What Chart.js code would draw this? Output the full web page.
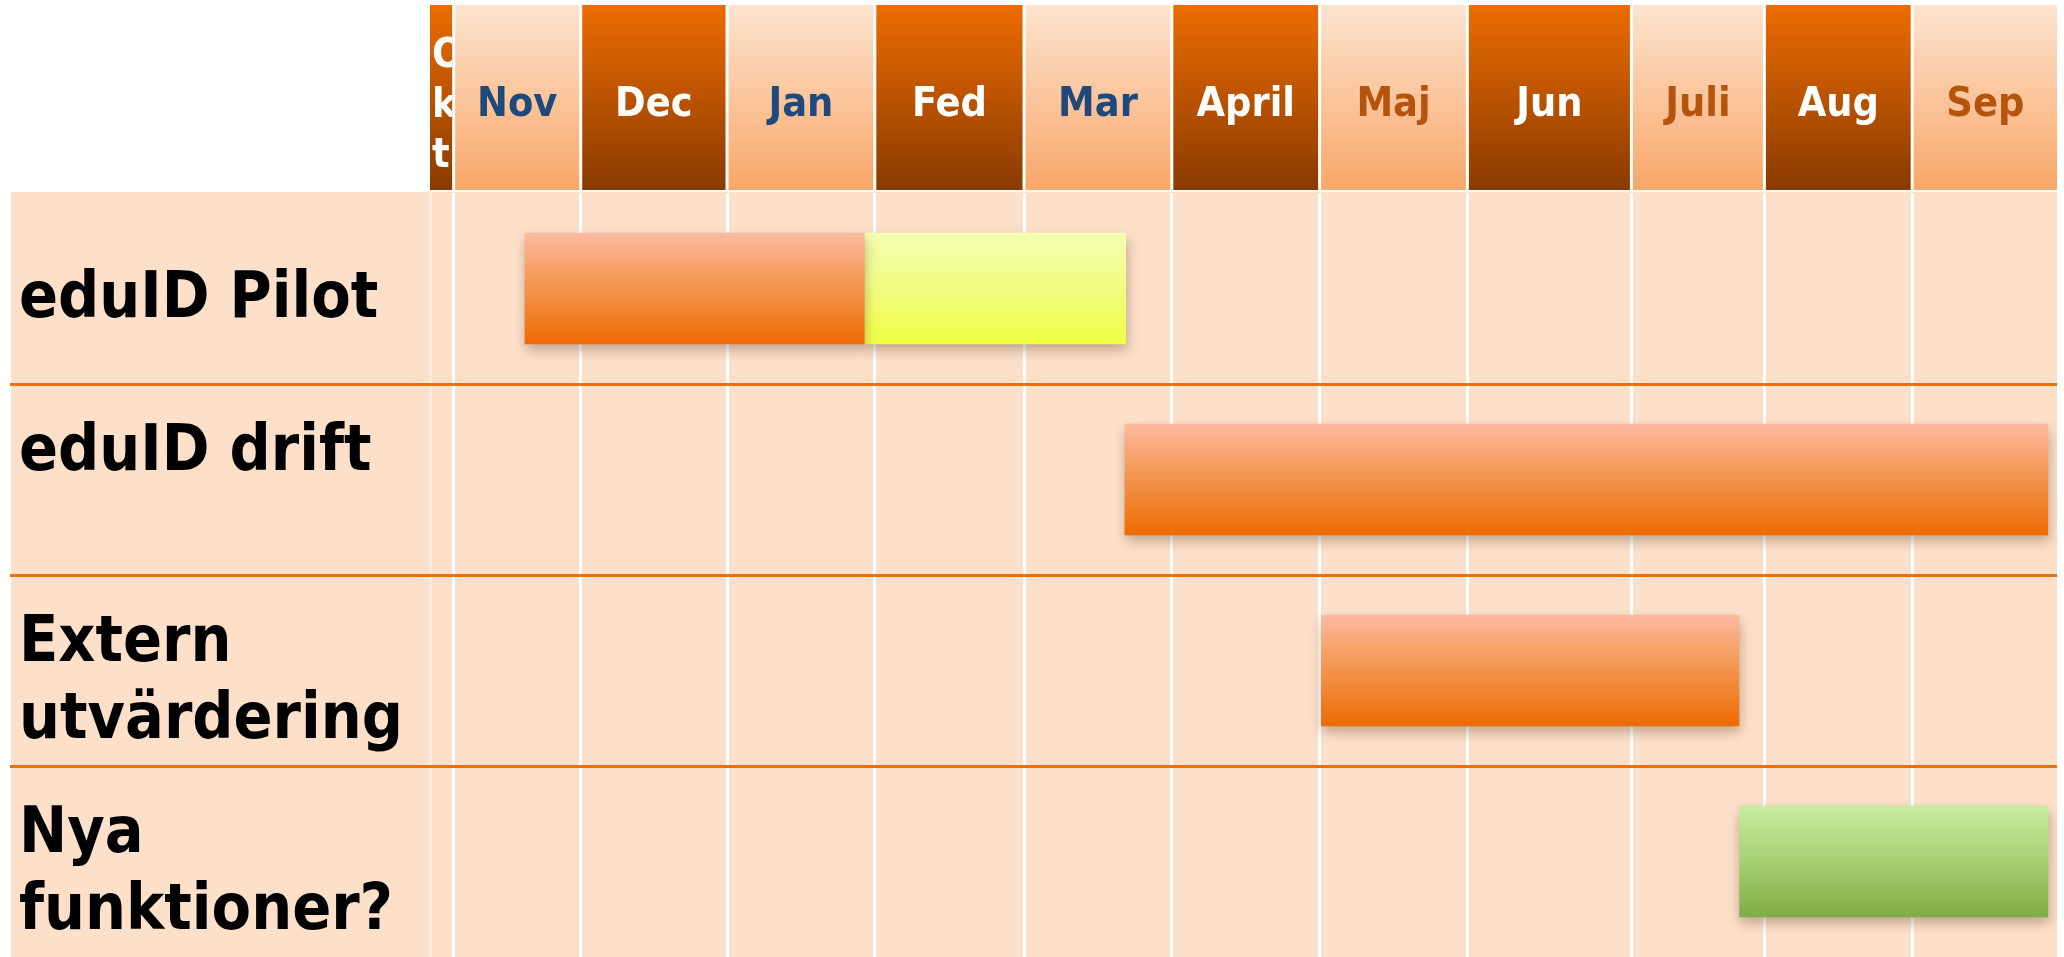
<!DOCTYPE html>
<html><head><meta charset="utf-8">
<script src="https://cdn.jsdelivr.net/npm/chart.js@4.4.1/dist/chart.umd.min.js"></script>
<style>html,body{margin:0;padding:0;background:#fff;overflow:hidden}</style>
</head><body>
<canvas id="c" width="2064" height="957"></canvas>
<script>
// ---- data (x values in months, counted from the start of Okt) ----
const rowLabels = [["eduID Pilot"], ["eduID drift", ""], ["Extern", "utvärdering"], ["Nya", "funktioner?"]];
const monthLabels = ["Okt", "Nov", "Dec", "Jan", "Fed", "Mar", "April", "Maj", "Jun", "Juli", "Aug", "Sep"];
const monthEdges = [0, 0.16, 1.02, 2.01, 3.01, 4.02, 5.02, 6.02, 7.02, 8.13, 9.03, 10.03, 11.01];
const orangeSpans = [[0.64, 2.94], [4.70, 10.95], [6.03, 8.86], null];
const yellowSpans = [[2.94, 4.71], null, null, null];
const greenSpans  = [null, null, null, [8.86, 10.95]];

const FONT = '"DejaVu Sans Condensed", "DejaVu Sans", sans-serif';
const BAR_PCT = 0.585;

function barGradient(stops) {
  return (ctx) => {
    const chart = ctx.chart, ys = chart.scales && chart.scales.y;
    if (!ys || ctx.type !== 'data' || !isFinite(ys.getPixelForValue(0))) return stops[stops.length - 1];
    const c = ys.getPixelForValue(ctx.dataIndex);
    const h = Math.abs(ys.getPixelForValue(1) - ys.getPixelForValue(0)) * BAR_PCT;
    const g = chart.ctx.createLinearGradient(0, c - h / 2, 0, c + h / 2);
    stops.forEach((s, i) => g.addColorStop(i / (stops.length - 1), s));
    return g;
  };
}

const ganttDecor = {
  id: 'ganttDecor',
  beforeDraw(chart) {
    const { ctx, chartArea: a, scales: { x } } = chart;
    ctx.save();
    ctx.fillStyle = '#ffffff';
    ctx.fillRect(0, 0, chart.width, chart.height);
    ctx.fillStyle = '#FCE0CA';
    ctx.fillRect(11, 192, a.right - 11, chart.height - 192);
    const top = 5, bot = 190, n = monthLabels.length;
    for (let i = 0; i < n; i++) {
      let l = x.getPixelForValue(monthEdges[i]), r = x.getPixelForValue(monthEdges[i + 1]);
      if (i > 0) l += 1.5;
      if (i < n - 1) r -= 1.5;
      const dark = i % 2 === 0;
      const g = ctx.createLinearGradient(0, top, 0, bot);
      if (dark) { g.addColorStop(0, '#EC6C00'); g.addColorStop(1, '#893A00'); }
      else { g.addColorStop(0, '#FDE4CF'); g.addColorStop(1, '#F8A769'); }
      ctx.fillStyle = g;
      ctx.fillRect(l, top, r - l, bot - top);
      ctx.save();
      ctx.beginPath(); ctx.rect(l, top, r - l, bot - top); ctx.clip();
      ctx.fillStyle = dark ? '#FFFFFF' : (i < 6 ? '#1F497D' : '#B4540F');
      ctx.font = 'bold 41px ' + FONT;
      const txt = monthLabels[i];
      if (ctx.measureText(txt).width > r - l) {
        ctx.textAlign = 'left'; ctx.textBaseline = 'alphabetic';
        [...txt].forEach((ch, k) => ctx.fillText(ch, l + 2, 67 + 50 * k));
      } else {
        ctx.textAlign = 'center'; ctx.textBaseline = 'middle';
        ctx.fillText(txt, (l + r) / 2, 105);
      }
      ctx.restore();
    }
    ctx.restore();
  }
};

const barShadow = {
  id: 'barShadow',
  beforeDatasetsDraw(chart) {
    const c = chart.ctx; c.save();
    c.shadowColor = 'rgba(90,60,40,0.38)'; c.shadowBlur = 12; c.shadowOffsetX = 1; c.shadowOffsetY = 6;
  },
  afterDatasetsDraw(chart) { chart.ctx.restore(); }
};

const common = { grouped: false, barPercentage: BAR_PCT, categoryPercentage: 1, borderWidth: 0, borderSkipped: false };

new Chart(document.getElementById('c'), {
  type: 'bar',
  data: {
    labels: rowLabels,
    datasets: [
      Object.assign({ label: 'orange', data: orangeSpans, backgroundColor: barGradient(['#FDBAA1', '#F6A066', '#F18634', '#ED6A03']) }, common),
      Object.assign({ label: 'yellow', data: yellowSpans, backgroundColor: barGradient(['#F4FDB2', '#F1FD80', '#EFFF42']) }, common),
      Object.assign({ label: 'green', data: greenSpans, backgroundColor: barGradient(['#C9ECA0', '#A6CF72', '#80AC46']) }, common)
    ]
  },
  options: {
    indexAxis: 'y',
    responsive: false,
    animation: false,
    devicePixelRatio: 1,
    layout: { padding: { left: 19, right: 7, top: 0, bottom: 0 } },
    plugins: { legend: { display: false }, tooltip: { enabled: false } },
    scales: {
      x: {
        type: 'linear', position: 'top',
        min: monthEdges[0], max: monthEdges[monthEdges.length - 1],
        afterBuildTicks: s => { s.ticks = monthEdges.map(v => ({ value: v })); },
        afterFit: s => { s.height = 193; s.paddingLeft = 0; s.paddingRight = 0; s.paddingTop = 0; s.paddingBottom = 0; },
        ticks: { display: false },
        border: { display: false },
        grid: {
          drawTicks: false, lineWidth: 3, z: -2,
          color: c => c.index === 0 ? 'rgba(255,255,255,0.35)' : (c.index === monthEdges.length - 1 ? 'rgba(0,0,0,0)' : '#FFFFFF')
        }
      },
      y: {
        type: 'category', position: 'left', offset: true,
        afterFit: s => { s.width = 411; s.paddingTop = 0; s.paddingBottom = 0; s.paddingLeft = 0; s.paddingRight = 0; },
        border: { display: false },
        grid: {
          offset: true, z: -1, lineWidth: 3, tickLength: 420, drawTicks: true,
          color: c => (c.type === 'tick' && c.index > 0) ? '#E8720F' : 'rgba(0,0,0,0)'
        },
        ticks: {
          crossAlign: 'far', color: '#000000', padding: 0, labelOffset: 12,
          font: { family: FONT, weight: 'bold', size: 64, lineHeight: 1.2 }
        }
      }
    }
  },
  plugins: [ganttDecor, barShadow]
});
</script>
</body></html>
